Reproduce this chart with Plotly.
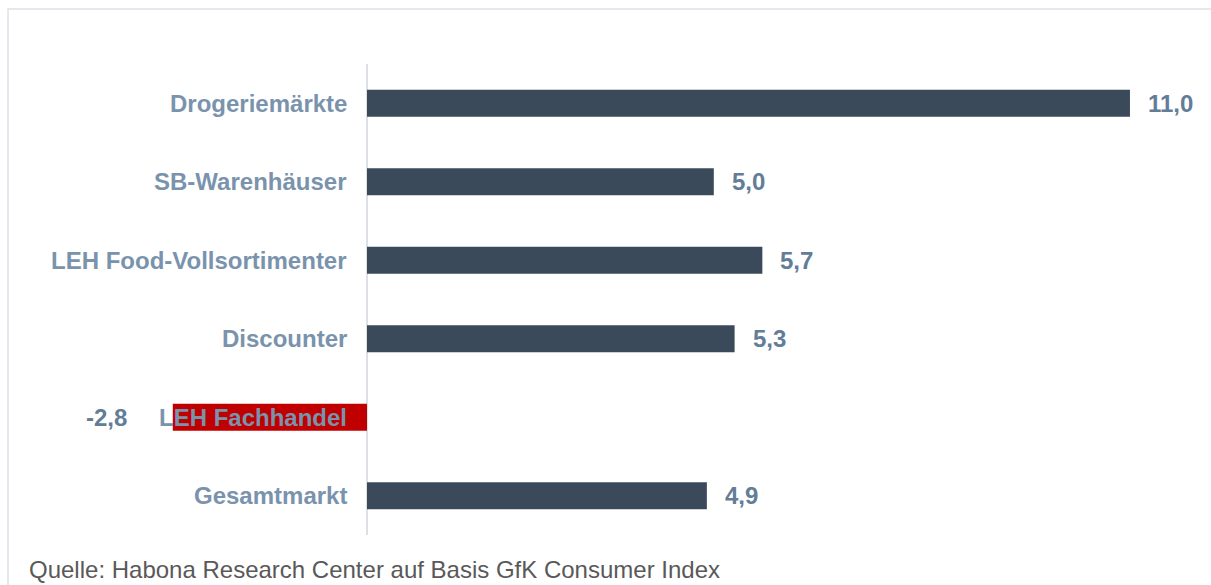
import plotly.graph_objects as go

# Umsatzveränderung nach Vertriebsschiene (in %)
categories = [
    "Drogeriemärkte",
    "SB-Warenhäuser",
    "LEH Food-Vollsortimenter",
    "Discounter",
    "LEH Fachhandel",
    "Gesamtmarkt",
]
values = [11.0, 5.0, 5.7, 5.3, -2.8, 4.9]
source_note = "Quelle: Habona Research Center auf Basis GfK Consumer Index"

BAR_POS = "#3a4a5a"
BAR_NEG = "#c00000"
CAT_COLOR = "#7a93ad"
VAL_COLOR = "#627d97"
LINE_COLOR = "#dde1e6"
FONT = "Liberation Sans, Arial, sans-serif"

W, H = 1211, 585
M_L, M_R, M_T, M_B = 60, 11, 64, 50
plot_w = W - M_L - M_R
plot_h = H - M_T - M_B
plot_bottom = M_T + plot_h  # pixel row of the plot's lower edge


def paper_x(px):
    return (px - M_L) / plot_w


def paper_y(py):
    return (plot_bottom - py) / plot_h


colors = [BAR_NEG if v < 0 else BAR_POS for v in values]

fig = go.Figure(
    go.Bar(
        x=values,
        y=categories,
        orientation="h",
        marker=dict(color=colors, line=dict(width=0)),
        width=0.345,
        hoverinfo="skip",
    )
)

annotations = []
for cat, v in zip(categories, values):
    # category name, right-aligned just left of the zero line
    annotations.append(dict(
        x=0, y=cat, xref="x", yref="y",
        text=f"<b>{cat}</b>", showarrow=False,
        xanchor="right", yanchor="middle", xshift=-18,
        font=dict(family=FONT, size=24, color=CAT_COLOR),
    ))
    # value label beyond the end of the bar
    label = f"{v:.1f}".replace(".", ",")
    annotations.append(dict(
        x=v, y=cat, xref="x", yref="y",
        text=f"<b>{label}</b>", showarrow=False,
        xanchor="right" if v < 0 else "left", yanchor="middle",
        xshift=-44 if v < 0 else 16,
        font=dict(family=FONT, size=24, color=VAL_COLOR),
    ))

annotations.append(dict(
    x=paper_x(27), y=paper_y(569),
    xref="paper", yref="paper",
    text=source_note, showarrow=False,
    xanchor="left", yanchor="middle",
    font=dict(family=FONT, size=24, color="#595959"),
))

# frame around the chart
shapes = [dict(
    type="rect", xref="paper", yref="paper",
    x0=paper_x(8), x1=paper_x(W + 10),
    y0=paper_y(H + 10), y1=paper_y(9),
    line=dict(color=LINE_COLOR, width=1.5), fillcolor="rgba(0,0,0,0)",
    layer="below",
)]

x_min = (M_L - 367) / 69.36
x_max = (W - M_R - 367) / 69.36

fig.update_layout(
    width=W, height=H,
    margin=dict(l=M_L, r=M_R, t=M_T, b=M_B, pad=0),
    paper_bgcolor="white", plot_bgcolor="white",
    showlegend=False,
    annotations=annotations,
    shapes=shapes,
    xaxis=dict(
        range=[x_min, x_max], showgrid=False, showticklabels=False,
        ticks="", zeroline=True, zerolinecolor=LINE_COLOR, zerolinewidth=1.5,
        showline=False, fixedrange=True,
    ),
    yaxis=dict(
        categoryorder="array", categoryarray=categories, autorange="reversed",
        showgrid=False, showticklabels=False, ticks="", zeroline=False,
        showline=False, fixedrange=True,
    ),
)

fig.write_html("out.html", config={"displayModeBar": False})
